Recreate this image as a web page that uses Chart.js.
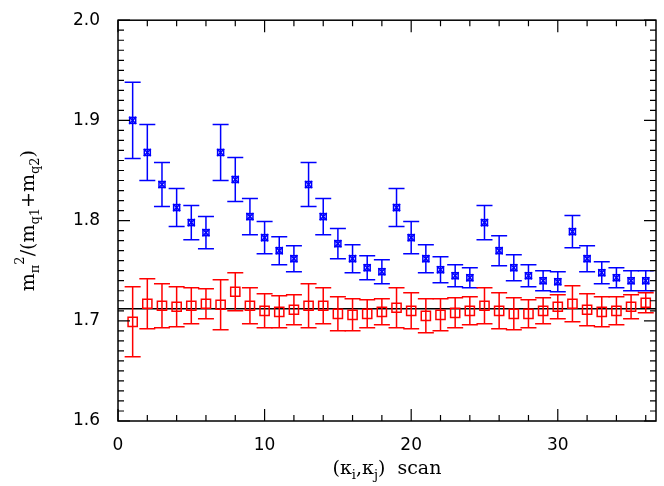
<!DOCTYPE html>
<html><head><meta charset="utf-8">
<script src="https://cdn.jsdelivr.net/npm/chart.js@4"></script>
<style>html,body{margin:0;background:#fff}#wrap{width:664px;height:486px}</style>
</head><body><div id="wrap"><canvas id="c"></canvas></div>
<script>
const scanIdx = Array.from({length:36},(_,i)=>i+1);
const blueVal = [1.900,1.868,1.836,1.813,1.798,1.788,1.868,1.841,1.804,1.783,1.770,1.762,1.836,1.804,1.777,1.762,1.753,1.749,1.813,1.783,1.762,1.751,1.745,1.743,1.798,1.770,1.753,1.745,1.740,1.739,1.789,1.762,1.748,1.743,1.740,1.740];
const blueErr = [0.038,0.028,0.022,0.019,0.017,0.016,0.028,0.022,0.018,0.016,0.014,0.013,0.022,0.018,0.015,0.014,0.012,0.012,0.019,0.016,0.014,0.013,0.011,0.010,0.017,0.015,0.013,0.011,0.010,0.010,0.016,0.013,0.011,0.010,0.010,0.010];
const redVal = [1.699,1.717,1.715,1.714,1.715,1.717,1.716,1.729,1.715,1.710,1.709,1.711,1.715,1.715,1.707,1.706,1.707,1.709,1.713,1.710,1.705,1.706,1.708,1.710,1.715,1.710,1.707,1.707,1.710,1.714,1.717,1.711,1.709,1.710,1.714,1.718];
const redErr = [0.035,0.025,0.022,0.020,0.018,0.015,0.025,0.019,0.018,0.017,0.016,0.015,0.022,0.018,0.017,0.016,0.014,0.013,0.020,0.018,0.017,0.016,0.015,0.014,0.018,0.018,0.016,0.014,0.013,0.012,0.018,0.016,0.015,0.014,0.012,0.010];
const fitLine = 1.712;
const xTicks = [0,10,20,30];
const yTicks = [1.6,1.7,1.8,1.9,2.0];

const BLUE = '#0000ff', RED = '#ff0000';
const F = '"DejaVu Sans", sans-serif';
const FT = '"DejaVu Serif", serif';

const errPlugin = {
  id:'err',
  beforeDatasetsDraw(chart){
    const {ctx, scales:{x,y}, chartArea:a} = chart;
    ctx.save();
    ctx.strokeStyle='#000'; ctx.lineWidth=1.5;
    ctx.beginPath(); ctx.moveTo(a.left, y.getPixelForValue(fitLine)); ctx.lineTo(a.right, y.getPixelForValue(fitLine)); ctx.stroke();
    const sets = [[blueVal,blueErr,BLUE],[redVal,redErr,RED]];
    sets.forEach(([v,e,col])=>{
      ctx.strokeStyle=col; ctx.lineWidth=1.5;
      v.forEach((val,i)=>{
        const px = x.getPixelForValue(scanIdx[i]);
        const y1 = y.getPixelForValue(val+e[i]), y2 = y.getPixelForValue(val-e[i]);
        ctx.beginPath();
        ctx.moveTo(px,y1); ctx.lineTo(px,y2);
        ctx.moveTo(px-8,y1); ctx.lineTo(px+8,y1);
        ctx.moveTo(px-8,y2); ctx.lineTo(px+8,y2);
        ctx.stroke();
      });
    });
    ctx.restore();
  },
  afterDatasetsDraw(chart){
    const {ctx, scales:{x,y}, chartArea:a} = chart;
    ctx.save();
    ctx.strokeStyle=BLUE; ctx.lineWidth=1.5;
    blueVal.forEach((val,i)=>{
      const px=x.getPixelForValue(scanIdx[i]), py=y.getPixelForValue(val);
      ctx.strokeRect(px-3,py-3,6,6);
    });
    ctx.strokeStyle='#000'; ctx.lineWidth=1.5;
    ctx.strokeRect(a.left,a.top,a.right-a.left,a.bottom-a.top);
    ctx.lineWidth=1.2;
    ctx.beginPath();
    for(let v=0; v<=36; v+=2){
      const px=x.getPixelForValue(v), L = v%10===0?12:6;
      ctx.moveTo(px,a.bottom); ctx.lineTo(px,a.bottom-L);
      ctx.moveTo(px,a.top); ctx.lineTo(px,a.top+L);
    }
    for(let k=0;k<=40;k++){
      const v=1.6+k*0.01, py=y.getPixelForValue(v), L = k%10===0?12:6;
      ctx.moveTo(a.left,py); ctx.lineTo(a.left+L,py);
      ctx.moveTo(a.right,py); ctx.lineTo(a.right-L,py);
    }
    ctx.stroke();
    ctx.fillStyle='#000'; ctx.textBaseline='alphabetic';
    const parts = (list)=>{
      let w=0; list.forEach(p=>{ctx.font=p[1]+'px '+FT; w+=ctx.measureText(p[0]).width;}); return w;
    };
    const drawParts = (list,x0,y0)=>{
      let cx=x0;
      list.forEach(p=>{ctx.font=p[1]+'px '+FT; ctx.fillText(p[0],cx,y0+p[2]); cx+=ctx.measureText(p[0]).width;});
    };
    const xt = [['(',19,0],['κ',19,0],['i',13,5],[',',19,0],['κ',19,0],['j',13,5],[')  scan',19,0]];
    const cxm = (a.left+a.right)/2;
    drawParts(xt, cxm-parts(xt)/2, 474);
    const yt = [['m',19,0],['π',13,5],['2',13,-10],['/(m',19,0],['q1',13,5],['+m',19,0],['q2',13,5],[')',19,0]];
    ctx.translate(34,(a.top+a.bottom)/2); ctx.rotate(-Math.PI/2);
    drawParts(yt, -parts(yt)/2, 0);
    ctx.restore();
  }
};

new Chart(document.getElementById('c'), {
  type:'scatter',
  data:{datasets:[
    {data:scanIdx.map((s,i)=>({x:s,y:blueVal[i]})), pointStyle:'crossRot', radius:5, borderColor:BLUE, borderWidth:1.5, backgroundColor:BLUE},
    {data:scanIdx.map((s,i)=>({x:s,y:redVal[i]})), pointStyle:'rect', radius:6.5, borderColor:RED, borderWidth:1.5, backgroundColor:'rgba(0,0,0,0)'}
  ]},
  options:{
    responsive:true, maintainAspectRatio:false, animation:false,
    layout:{padding:{top:8,right:2,left:0,bottom:0}},
    plugins:{legend:{display:false}, tooltip:{enabled:false}},
    scales:{
      x:{min:0,max:36.7, grid:{display:false}, border:{display:false},
        afterBuildTicks(s){ s.ticks = xTicks.map(v=>({value:v})); },
        afterFit(s){ s.height=65; },
        ticks:{color:'#000', font:{family:F,size:17}, padding:6, maxRotation:0}},
      y:{min:1.6,max:2.0, grid:{display:false}, border:{display:false},
        afterBuildTicks(s){ s.ticks = yTicks.map(v=>({value:v})); },
        afterFit(s){ s.width=118; },
        ticks:{color:'#000', font:{family:F,size:17}, padding:10, callback:v=>v.toFixed(1)}}
    }
  },
  plugins:[errPlugin]
});
</script></body></html>
